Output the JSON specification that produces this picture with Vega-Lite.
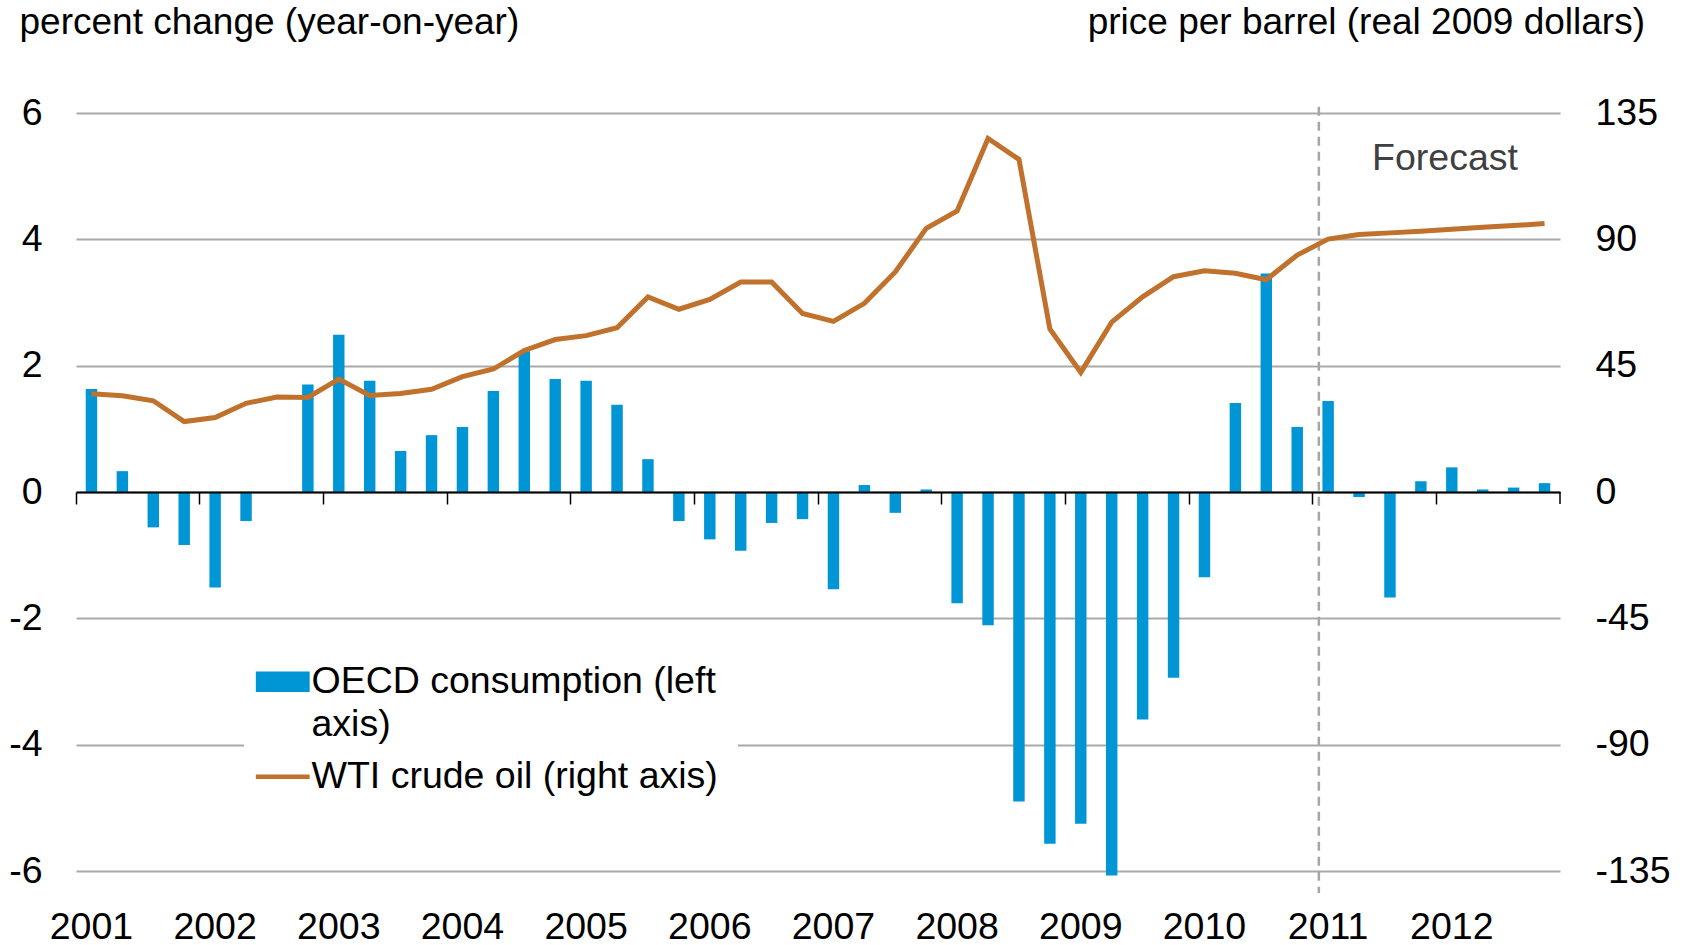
{
  "$schema": "https://vega.github.io/schema/vega-lite/v6.json",
  "width": 1484,
  "height": 758,
  "autosize": "none",
  "padding": {"left": 76, "top": 113, "right": 130, "bottom": 74},
  "background": "white",
  "config": {"view": {"stroke": null}, "font": "Liberation Sans"},
  "datasets": {
    "main": [
      {"q": "2001Q1", "pct": 1.63, "price": 35.0},
      {"q": "2001Q2", "pct": 0.33, "price": 34.3},
      {"q": "2001Q3", "pct": -0.56, "price": 32.5},
      {"q": "2001Q4", "pct": -0.84, "price": 25.1},
      {"q": "2002Q1", "pct": -1.51, "price": 26.5},
      {"q": "2002Q2", "pct": -0.46, "price": 31.6},
      {"q": "2002Q3", "pct": 0.0, "price": 33.8},
      {"q": "2002Q4", "pct": 1.70, "price": 33.7},
      {"q": "2003Q1", "pct": 2.49, "price": 40.2},
      {"q": "2003Q2", "pct": 1.76, "price": 34.4},
      {"q": "2003Q3", "pct": 0.65, "price": 35.1},
      {"q": "2003Q4", "pct": 0.90, "price": 36.6},
      {"q": "2004Q1", "pct": 1.03, "price": 41.1},
      {"q": "2004Q2", "pct": 1.60, "price": 43.8},
      {"q": "2004Q3", "pct": 2.23, "price": 50.4},
      {"q": "2004Q4", "pct": 1.79, "price": 54.3},
      {"q": "2005Q1", "pct": 1.76, "price": 55.7},
      {"q": "2005Q2", "pct": 1.38, "price": 58.5},
      {"q": "2005Q3", "pct": 0.52, "price": 69.5},
      {"q": "2005Q4", "pct": -0.46, "price": 65.1},
      {"q": "2006Q1", "pct": -0.75, "price": 68.6},
      {"q": "2006Q2", "pct": -0.93, "price": 74.8},
      {"q": "2006Q3", "pct": -0.49, "price": 74.8},
      {"q": "2006Q4", "pct": -0.43, "price": 63.6},
      {"q": "2007Q1", "pct": -1.54, "price": 60.8},
      {"q": "2007Q2", "pct": 0.11, "price": 67.2},
      {"q": "2007Q3", "pct": -0.33, "price": 78.4},
      {"q": "2007Q4", "pct": 0.04, "price": 93.9},
      {"q": "2008Q1", "pct": -1.76, "price": 100.1},
      {"q": "2008Q2", "pct": -2.11, "price": 125.9},
      {"q": "2008Q3", "pct": -4.90, "price": 118.5},
      {"q": "2008Q4", "pct": -5.57, "price": 58.1},
      {"q": "2009Q1", "pct": -5.25, "price": 42.6},
      {"q": "2009Q2", "pct": -6.07, "price": 60.5},
      {"q": "2009Q3", "pct": -3.60, "price": 69.5},
      {"q": "2009Q4", "pct": -2.94, "price": 76.7},
      {"q": "2010Q1", "pct": -1.35, "price": 78.8},
      {"q": "2010Q2", "pct": 1.41, "price": 77.9},
      {"q": "2010Q3", "pct": 3.46, "price": 75.6},
      {"q": "2010Q4", "pct": 1.03, "price": 84.4},
      {"q": "2011Q1", "pct": 1.44, "price": 90.1},
      {"q": "2011Q2", "pct": -0.08, "price": 91.7},
      {"q": "2011Q3", "pct": -1.67, "price": 92.3},
      {"q": "2011Q4", "pct": 0.17, "price": 92.9},
      {"q": "2012Q1", "pct": 0.39, "price": 93.6},
      {"q": "2012Q2", "pct": 0.04, "price": 94.3},
      {"q": "2012Q3", "pct": 0.07, "price": 94.9},
      {"q": "2012Q4", "pct": 0.14, "price": 95.6}
    ]
  },
  "resolve": {"scale": {"y": "independent"}},
  "layer": [
    {
      "layer": [
        {
          "data": {"name": "main"},
          "mark": {"type": "bar", "width": {"band": 0.37}},
          "encoding": {
            "x": {
              "field": "q", "type": "ordinal", "sort": null,
              "scale": {"type": "band", "paddingInner": 0, "paddingOuter": 0},
              "axis": {
                "orient": "bottom", "offset": -379, "title": null,
                "values": ["2001Q1","2002Q1","2003Q1","2004Q1","2005Q1","2006Q1","2007Q1","2008Q1","2009Q1","2010Q1","2011Q1","2012Q1"],
                "bandPosition": 0, "labelOffset": 0,
                "labelExpr": "substring(datum.label, 0, 4)",
                "labelAngle": 0, "labelFontSize": 37.5, "labelColor": "#000000", "labelFont": "Liberation Sans",
                "labelPadding": 404, "labelBaseline": "top", "labelOverlap": false, "labelFlush": false, "labelBound": false,
                "ticks": true, "tickSize": 12, "tickColor": "#000000", "tickWidth": 1.5,
                "domain": true, "domainColor": "#000000", "domainWidth": 2.2,
                "grid": false, "zindex": 2
              }
            },
            "y": {
              "field": "pct", "type": "quantitative",
              "scale": {"domain": [-6, 6], "nice": false, "zero": false},
              "axis": {
                "orient": "left", "values": [-6, -4, -2, 0, 2, 4, 6],
                "labelExpr": "'' + datum.value",
                "grid": true, "gridColor": "#A9A9A9", "gridWidth": 2,
                "domain": false, "ticks": false, "labelPadding": 34,
                "labelFontSize": 37.5, "labelColor": "#000000", "labelFont": "Liberation Sans", "labelFlush": false,
                "title": "percent change (year-on-year)", "titleAngle": 0, "titleX": -57, "titleY": -80,
                "titleAlign": "left", "titleBaseline": "alphabetic", "titleFontSize": 37,
                "titleFontWeight": "normal", "titleColor": "#000000", "titleFont": "Liberation Sans", "zindex": 0
              }
            },
            "color": {
              "datum": "OECD consumption (left axis)",
              "scale": {"domain": ["OECD consumption (left axis)", "WTI crude oil (right axis)"], "range": ["#0096D6", "#C0712C"]},
              "legend": {
                "title": null, "orient": "none", "legendX": 168, "legendY": 530,
                "direction": "vertical", "fillColor": "#FFFFFF", "padding": 20,
                "labelFontSize": 37.5, "labelFont": "Liberation Sans", "labelColor": "#000000",
                "labelLimit": 600, "labelOffset": 10, "symbolSize": 2900, "rowPadding": 13,
                "labelExpr": "datum.value == 'OECD consumption (left axis)' ? ['OECD consumption (left', 'axis)'] : datum.label",
                "encode": {
                  "labels": {"update": {"lineHeight": {"value": 43}}},
                  "symbols": {
                    "update": {
                      "shape": {"signal": "datum.value == 'WTI crude oil (right axis)' ? 'stroke' : 'M-1,-0.38H1V0.38H-1Z'"},
                      "fill": {"signal": "datum.value == 'WTI crude oil (right axis)' ? 'transparent' : '#0096D6'"},
                      "stroke": {"signal": "datum.value == 'WTI crude oil (right axis)' ? '#C0712C' : '#0096D6'"},
                      "strokeWidth": {"signal": "datum.value == 'WTI crude oil (right axis)' ? 4.5 : 0"},
                      "opacity": {"value": 1}
                    }
                  }
                }
              }
            }
          }
        },
        {
          "data": {"values": [{"q": "2011Q1", "top": 6.1, "bottom": -6.35}]},
          "mark": {"type": "rule", "color": "#A6A6A6", "strokeWidth": 2.5, "strokeDash": [9, 6]},
          "encoding": {
            "x": {"field": "q", "type": "ordinal", "bandPosition": 0.2},
            "y": {"field": "top", "type": "quantitative"},
            "y2": {"field": "bottom"}
          }
        },
        {
          "data": {"values": [{"q": "2012Q1", "y": 5.27, "label": "Forecast"}]},
          "mark": {"type": "text", "fontSize": 37.5, "color": "#404040", "align": "center", "baseline": "middle", "font": "Liberation Sans"},
          "encoding": {
            "x": {"field": "q", "type": "ordinal", "bandPosition": 0.28},
            "y": {"field": "y", "type": "quantitative"},
            "text": {"field": "label"}
          }
        },
        {
          "data": {"values": [{"q": "2012Q4", "y": 0, "y2": -0.19}]},
          "mark": {"type": "rule", "color": "#000000", "strokeWidth": 1.5},
          "encoding": {
            "x": {"field": "q", "type": "ordinal", "bandPosition": 1},
            "y": {"field": "y", "type": "quantitative"},
            "y2": {"field": "y2"}
          }
        }
      ]
    },
    {
      "data": {"name": "main"},
      "mark": {"type": "line", "strokeWidth": 5, "strokeJoin": "miter"},
      "encoding": {
        "x": {"field": "q", "type": "ordinal", "sort": null},
        "y": {
          "field": "price", "type": "quantitative",
          "scale": {"domain": [-135, 135], "nice": false, "zero": false},
          "axis": {
            "orient": "right", "values": [-135, -90, -45, 0, 45, 90, 135],
            "labelExpr": "'' + datum.value",
            "grid": false, "domain": false, "ticks": false, "labelPadding": 35,
            "labelFontSize": 37.5, "labelColor": "#000000", "labelFont": "Liberation Sans", "labelFlush": false,
            "title": "price per barrel (real 2009 dollars)", "titleAngle": 0, "titleX": 84.5, "titleY": -80,
            "titleAlign": "right", "titleBaseline": "alphabetic", "titleFontSize": 37,
            "titleFontWeight": "normal", "titleColor": "#000000", "titleFont": "Liberation Sans"
          }
        },
        "color": {"datum": "WTI crude oil (right axis)"}
      }
    }
  ]
}
